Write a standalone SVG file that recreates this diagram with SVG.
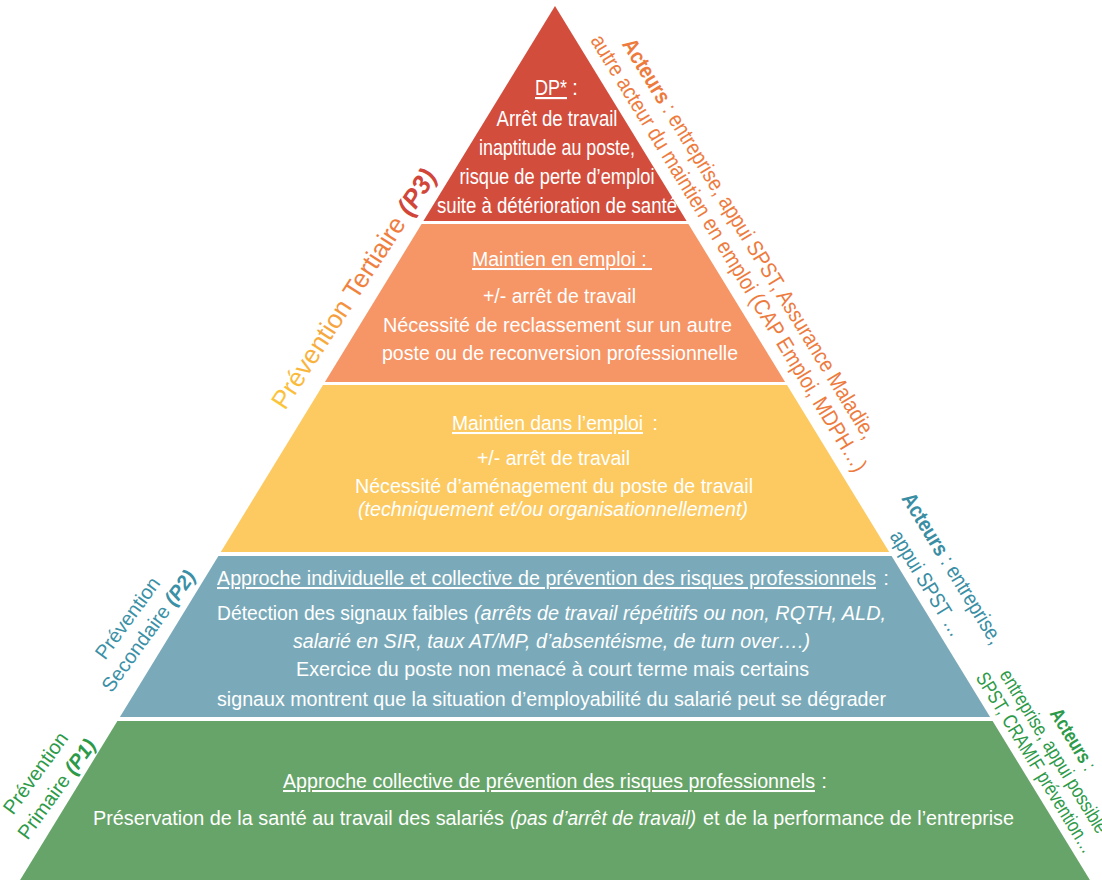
<svg xmlns="http://www.w3.org/2000/svg" width="1102" height="880" viewBox="0 0 1102 880">
<style>
.c{font-family:"Liberation Sans Narrow","Liberation Sans",Arial,sans-serif;fill:#fff;text-anchor:middle}
.f20{font-size:21.5px}
.f19{font-size:20.5px}
.u{text-decoration:underline}
.i{font-style:italic}
.b{font-weight:bold}
.side{font-family:"Liberation Sans",Arial,sans-serif;font-size:20px;text-anchor:middle}
.rside{font-family:"Liberation Sans Narrow","Liberation Sans",Arial,sans-serif;text-anchor:middle}
</style>
<defs>
<linearGradient id="gP3" gradientUnits="userSpaceOnUse" x1="0" y1="0" x2="230" y2="0">
<stop offset="0" stop-color="#FCC53B"/>
<stop offset="0.45" stop-color="#F6A23E"/>
<stop offset="0.6" stop-color="#F0823F"/>
<stop offset="1" stop-color="#EE7B3E"/>
</linearGradient>
</defs>
<rect width="1102" height="880" fill="#fff"/>

<g id="band-p3-dp">
<polygon points="555,6 686.6,221 423.4,221" fill="#D34D3D"/>
<text class="c f20 u" x="551" y="95" textLength="32" lengthAdjust="spacingAndGlyphs">DP*</text>
<text class="c f20" x="575" y="95">:</text>
<text class="c f20" x="557" y="126" textLength="121" lengthAdjust="spacingAndGlyphs">Arrêt de travail</text>
<text class="c f20" x="557" y="155" textLength="156" lengthAdjust="spacingAndGlyphs">inaptitude au poste,</text>
<text class="c f20" x="557" y="184" textLength="195" lengthAdjust="spacingAndGlyphs">risque de perte d’emploi</text>
<text class="c f20" x="557" y="213" textLength="240" lengthAdjust="spacingAndGlyphs">suite à détérioration de santé</text>
</g>

<g id="band-maintien-en-emploi">
<polygon points="421.6,224 688.4,224 785.1,382 324.9,382" fill="#F69566"/>
<text class="c f19 u" x="562" y="266" textLength="180" lengthAdjust="spacingAndGlyphs">Maintien en emploi :&#160;</text>
<text class="c f19" x="559.5" y="303" textLength="153" lengthAdjust="spacingAndGlyphs">+/- arrêt de travail</text>
<text class="c f19" x="557.5" y="332" textLength="349" lengthAdjust="spacingAndGlyphs">Nécessité de reclassement sur un autre</text>
<text class="c f19" x="560" y="360" textLength="356" lengthAdjust="spacingAndGlyphs">poste ou de reconversion professionnelle</text>
</g>

<g id="band-maintien-dans-emploi">
<polygon points="323.0,385 787.0,385 889.2,552 220.8,552" fill="#FCCA61"/>
<text class="c f19 u" x="547.5" y="430" textLength="191" lengthAdjust="spacingAndGlyphs">Maintien dans l’emploi</text>
<text class="c f19" x="655" y="430">:</text>
<text class="c f19" x="553.5" y="465" textLength="153" lengthAdjust="spacingAndGlyphs">+/- arrêt de travail</text>
<text class="c f19" x="554" y="493" textLength="398" lengthAdjust="spacingAndGlyphs">Nécessité d’aménagement du poste de travail</text>
<text class="c f19 i" x="553" y="516" textLength="390" lengthAdjust="spacingAndGlyphs">(techniquement et/ou organisationnellement)</text>
</g>

<g id="band-p2">
<polygon points="218.4,556 891.6,556 990.1,717 119.9,717" fill="#7AAAB9"/>
<text class="c f19 u" x="546.5" y="585" textLength="659" lengthAdjust="spacingAndGlyphs">Approche individuelle et collective de prévention des risques professionnels</text>
<text class="c f19" x="886" y="585">:</text>
<text class="c f19" x="342.5" y="620" textLength="251" lengthAdjust="spacingAndGlyphs">Détection des signaux faibles</text>
<text class="c f19 i" x="680" y="620" textLength="412" lengthAdjust="spacingAndGlyphs">(arrêts de travail répétitifs ou non, RQTH, ALD,</text>
<text class="c f19 i" x="551.5" y="648" textLength="517" lengthAdjust="spacingAndGlyphs">salarié en SIR, taux AT/MP, d’absentéisme, de turn over….)</text>
<text class="c f19" x="552.5" y="676" textLength="513" lengthAdjust="spacingAndGlyphs">Exercice du poste non menacé à court terme mais certains</text>
<text class="c f19" x="551.5" y="706" textLength="669" lengthAdjust="spacingAndGlyphs">signaux montrent que la situation d’employabilité du salarié peut se dégrader</text>
</g>

<g id="band-p1">
<polygon points="117.4,721 992.6,721 1089.9,880 20.1,880" fill="#67A469"/>
<text class="c f19 u" x="549" y="788" textLength="532" lengthAdjust="spacingAndGlyphs">Approche collective de prévention des risques professionnels</text>
<text class="c f19" x="824" y="788">:</text>
<text class="c f19" x="298.5" y="825" textLength="411" lengthAdjust="spacingAndGlyphs">Préservation de la santé au travail des salariés</text>
<text class="c f19 i" x="603" y="825" textLength="186" lengthAdjust="spacingAndGlyphs">(pas d’arrêt de travail)</text>
<text class="c f19" x="858.5" y="825" textLength="311" lengthAdjust="spacingAndGlyphs">et de la performance de l’entreprise</text>
</g>

<g id="label-p3">
<text transform="translate(285,411) rotate(-57)" style="font-family:'Liberation Sans',Arial,sans-serif;font-size:26px"><tspan fill="url(#gP3)">Prévention Tertiaire </tspan><tspan class="b i" fill="#D2463A">(P3)</tspan></text>
</g>
<g id="label-p2" fill="#3A90A6">
<text class="side" transform="translate(133,622) rotate(-54)">Prévention</text>
<text class="side" transform="translate(154,635) rotate(-54)">Secondaire <tspan class="b i">(P2)</tspan></text>
</g>
<g id="label-p1" fill="#2C9A48">
<text class="side" transform="translate(41,777) rotate(-54)">Prévention</text>
<text class="side" transform="translate(62,793) rotate(-54)">Primaire <tspan class="b i">(P1)</tspan></text>
</g>

<g id="actors-p3" fill="#EE7B3E">
<text class="rside" font-size="22" transform="translate(743,242.3) rotate(58.5)" textLength="465" lengthAdjust="spacingAndGlyphs"><tspan class="b">Acteurs</tspan> : entreprise, appui SPST, Assurance Maladie,</text>
<text class="rside" font-size="22" transform="translate(722.7,256.9) rotate(58.5)" textLength="508" lengthAdjust="spacingAndGlyphs">autre acteur du maintien en emploi (CAP Emploi, MDPH…)</text>
</g>
<g id="actors-p2" fill="#3A8EA4">
<text class="rside" font-size="21.5" transform="translate(946.2,572.1) rotate(58.5)" textLength="173" lengthAdjust="spacingAndGlyphs"><tspan class="b">Acteurs</tspan> : entreprise,</text>
<text class="rside" font-size="21.5" transform="translate(920.7,587.1) rotate(58.5)" textLength="120" lengthAdjust="spacingAndGlyphs">appui SPST …</text>
</g>
<g id="actors-p1" fill="#2C9A48">
<text class="rside" font-size="20" transform="translate(1067.4,743) rotate(58.5)" textLength="69" lengthAdjust="spacingAndGlyphs"><tspan class="b">Acteurs</tspan> :</text>
<text class="rside" font-size="20" transform="translate(1048.2,754.8) rotate(58.5)" textLength="188" lengthAdjust="spacingAndGlyphs">entreprise, appui possible</text>
<text class="rside" font-size="20" transform="translate(1029.6,766.1) rotate(58.5)" textLength="208" lengthAdjust="spacingAndGlyphs">SPST, CRAMIF prévention…</text>
</g>
</svg>
